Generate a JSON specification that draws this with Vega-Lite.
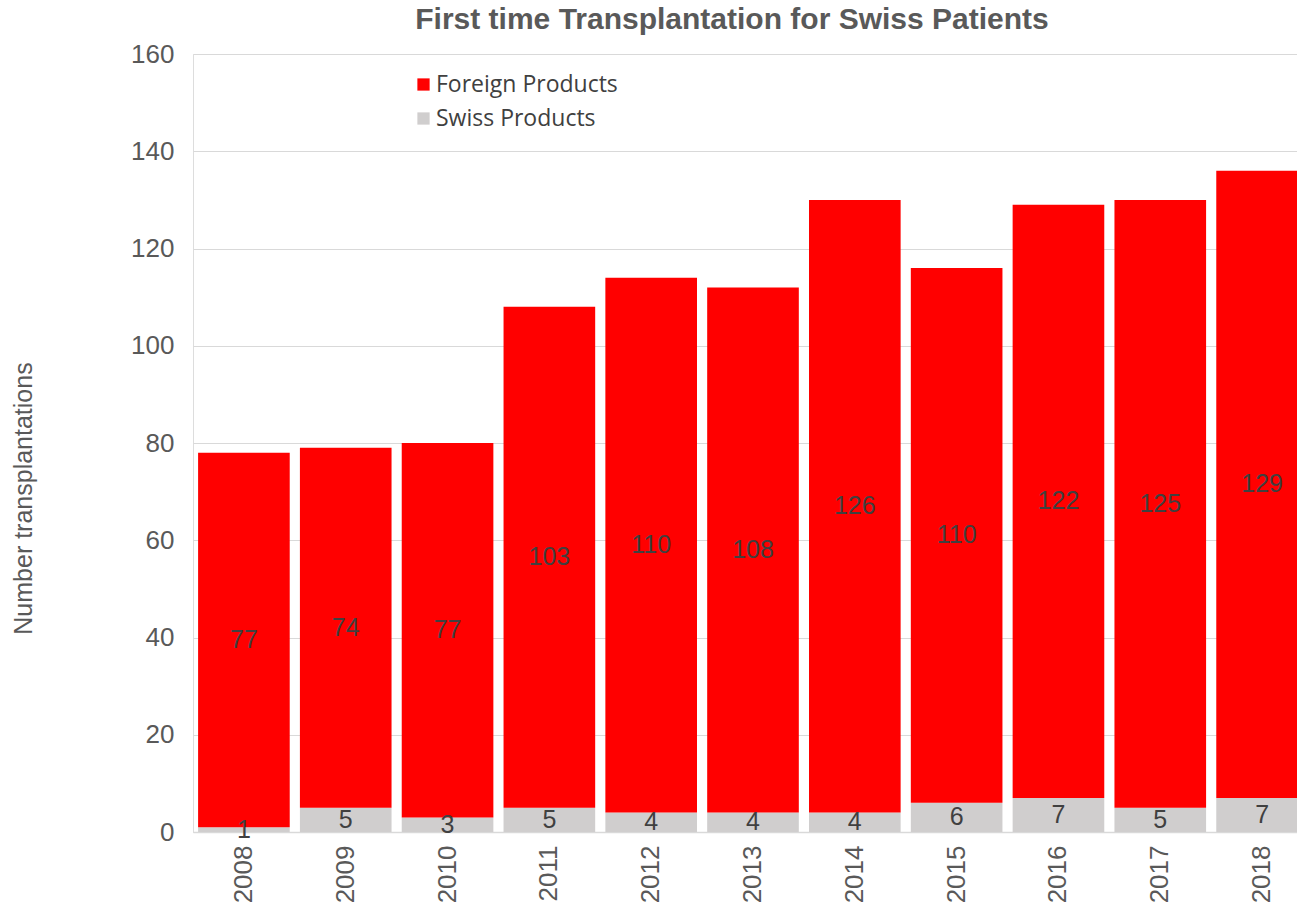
{
  "$schema": "https://vega.github.io/schema/vega-lite/v6.json",
  "width": 1104,
  "height": 778,
  "autosize": {"type": "none"},
  "padding": {"left": 193, "top": 54, "right": 0, "bottom": 75},
  "background": "white",
  "title": {
    "text": "First time Transplantation for Swiss Patients",
    "font": "Liberation Sans",
    "fontSize": 30,
    "fontWeight": "bold",
    "color": "#595959",
    "anchor": "middle",
    "frame": "group",
    "dx": -13,
    "offset": 6
  },
  "data": {
    "values": [
      {"year": "2008", "category": "Swiss Products", "value": 1, "ord": 0},
      {"year": "2008", "category": "Foreign Products", "value": 77, "ord": 1},
      {"year": "2009", "category": "Swiss Products", "value": 5, "ord": 0},
      {"year": "2009", "category": "Foreign Products", "value": 74, "ord": 1},
      {"year": "2010", "category": "Swiss Products", "value": 3, "ord": 0},
      {"year": "2010", "category": "Foreign Products", "value": 77, "ord": 1},
      {"year": "2011", "category": "Swiss Products", "value": 5, "ord": 0},
      {"year": "2011", "category": "Foreign Products", "value": 103, "ord": 1},
      {"year": "2012", "category": "Swiss Products", "value": 4, "ord": 0},
      {"year": "2012", "category": "Foreign Products", "value": 110, "ord": 1},
      {"year": "2013", "category": "Swiss Products", "value": 4, "ord": 0},
      {"year": "2013", "category": "Foreign Products", "value": 108, "ord": 1},
      {"year": "2014", "category": "Swiss Products", "value": 4, "ord": 0},
      {"year": "2014", "category": "Foreign Products", "value": 126, "ord": 1},
      {"year": "2015", "category": "Swiss Products", "value": 6, "ord": 0},
      {"year": "2015", "category": "Foreign Products", "value": 110, "ord": 1},
      {"year": "2016", "category": "Swiss Products", "value": 7, "ord": 0},
      {"year": "2016", "category": "Foreign Products", "value": 122, "ord": 1},
      {"year": "2017", "category": "Swiss Products", "value": 5, "ord": 0},
      {"year": "2017", "category": "Foreign Products", "value": 125, "ord": 1},
      {"year": "2018", "category": "Swiss Products", "value": 7, "ord": 0},
      {"year": "2018", "category": "Foreign Products", "value": 129, "ord": 1}
    ]
  },
  "encoding": {
    "x": {
      "field": "year",
      "type": "ordinal",
      "scale": {"range": [0, 1120], "paddingInner": 0.1, "paddingOuter": 0.05},
      "axis": {
        "title": null,
        "labelAngle": -90,
        "labelFont": "Liberation Sans",
        "labelFontSize": 26,
        "labelColor": "#595959",
        "labelPadding": 13,
        "ticks": false,
        "domainColor": "#d9d9d9",
        "domainWidth": 1.5,
        "grid": false
      }
    }
  },
  "layer": [
    {
      "mark": {"type": "bar"},
      "encoding": {
        "y": {
          "field": "value",
          "type": "quantitative",
          "stack": "zero",
          "scale": {"domain": [0, 160]},
          "axis": {
            "title": "Number transplantations",
            "titleFont": "Liberation Sans",
            "titleFontSize": 25,
            "titleFontWeight": "normal",
            "titleColor": "#595959",
            "titlePadding": 94,
            "titleY": 444,
            "values": [0, 20, 40, 60, 80, 100, 120, 140, 160],
            "labelFont": "Liberation Sans",
            "labelFontSize": 26,
            "labelColor": "#595959",
            "labelPadding": 19,
            "ticks": false,
            "domain": false,
            "grid": true,
            "gridColor": "#d9d9d9",
            "gridWidth": 1
          }
        },
        "color": {
          "field": "category",
          "type": "nominal",
          "scale": {"domain": ["Foreign Products", "Swiss Products"], "range": ["#ff0000", "#d0cece"]},
          "legend": {
            "title": null,
            "orient": "none",
            "legendX": 219,
            "legendY": 19,
            "symbolType": "square",
            "symbolSize": 150,
            "symbolStrokeWidth": 0,
            "labelFont": "Open Sans",
            "labelFontSize": 23,
            "labelColor": "#404040",
            "labelOffset": 1,
            "labelLimit": 400,
            "rowPadding": 10
          }
        },
        "order": {"field": "ord", "type": "quantitative"}
      }
    },
    {
      "transform": [
        {"stack": "value", "groupby": ["year"], "sort": [{"field": "ord", "order": "ascending"}], "as": ["v0", "v1"]},
        {"calculate": "(datum.v0 + datum.v1) / 2", "as": "mid"}
      ],
      "mark": {"type": "text", "font": "Liberation Sans", "fontSize": 25, "color": "#404040", "baseline": "middle"},
      "encoding": {
        "y": {"field": "mid", "type": "quantitative"},
        "text": {"field": "value", "type": "quantitative"}
      }
    }
  ]
}
